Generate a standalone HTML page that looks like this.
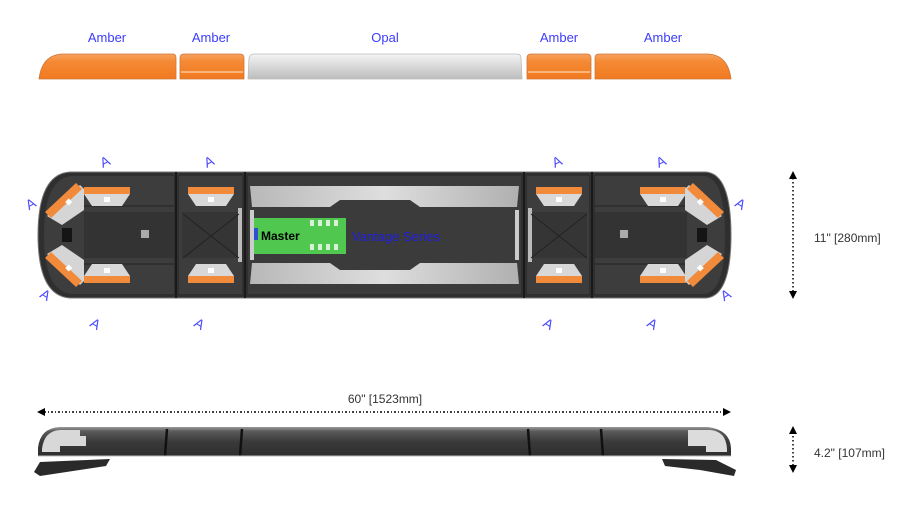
<!DOCTYPE html>
<html><head><meta charset="utf-8"><style>
html,body{margin:0;padding:0;background:#fff;}
svg{display:block;}
text{font-family:"Liberation Sans",sans-serif;}
</style></head><body>
<svg width="917" height="520" viewBox="0 0 917 520" xmlns="http://www.w3.org/2000/svg">
<defs>
<linearGradient id="amb" x1="0" y1="0" x2="0" y2="1"><stop offset="0" stop-color="#f6a261"/><stop offset="0.3" stop-color="#f58a34"/><stop offset="1" stop-color="#f07a20"/></linearGradient>
<linearGradient id="opl" x1="0" y1="0" x2="0" y2="1"><stop offset="0" stop-color="#f4f4f4"/><stop offset="0.5" stop-color="#d8d8d8"/><stop offset="1" stop-color="#bdbdbd"/></linearGradient>
<linearGradient id="side" x1="0" y1="0" x2="0" y2="1"><stop offset="0" stop-color="#9a9a9a"/><stop offset="0.15" stop-color="#5a5a5a"/><stop offset="0.5" stop-color="#3a3a3a"/><stop offset="1" stop-color="#2e2e2e"/></linearGradient>
<linearGradient id="pan" x1="0" y1="0" x2="1" y2="0"><stop offset="0" stop-color="#b8b8b8"/><stop offset="0.5" stop-color="#dedede"/><stop offset="1" stop-color="#b0b0b0"/></linearGradient>
<g id="trap">
 <polygon points="-23,7 23,7 15,19 -15,19" fill="#d8d8d8"/>
 <rect x="-23" y="0" width="46" height="7" fill="#f28a3c"/>
 <rect x="-3" y="10" width="6" height="5" fill="#fff"/>
</g>
<g id="diag">
 <polygon points="47,216 80,185 84,189 84,210 62,225" fill="#d5d5d5"/>
 <polygon points="45,212 76,183 82,189 51,218" fill="#f28a3c"/>
 <rect x="66" y="200" width="5" height="5" fill="#fff" transform="rotate(-45 68 202)"/>
</g>
<g id="A"><text font-size="14" fill="#4a4aff" text-anchor="middle">A</text></g>
</defs>

<text x="107" y="42" font-size="13" fill="#3b3bff" text-anchor="middle">Amber</text>
<text x="211" y="42" font-size="13" fill="#3b3bff" text-anchor="middle">Amber</text>
<text x="385" y="42" font-size="13" fill="#3b3bff" text-anchor="middle">Opal</text>
<text x="559" y="42" font-size="13" fill="#3b3bff" text-anchor="middle">Amber</text>
<text x="663" y="42" font-size="13" fill="#3b3bff" text-anchor="middle">Amber</text>
<path d="M39,79 Q42,55 62,54 L173,54 Q176,54 176,58 L176,79 Z" fill="url(#amb)" stroke="#d0773a" stroke-width="0.8"/>
<path d="M180,79 L180,58 Q180,54 184,54 L240,54 Q244,54 244,58 L244,79 Z" fill="url(#amb)" stroke="#d0773a" stroke-width="0.8"/>
<line x1="181" y1="72" x2="243" y2="72" stroke="#fbb47a" stroke-width="2"/>
<path d="M248,79 L249,58 Q250,54 254,54 L517,54 Q521,54 521,58 L522,79 Z" fill="url(#opl)" stroke="#bbb" stroke-width="0.8"/>
<path d="M527,79 L527,58 Q527,54 531,54 L587,54 Q591,54 591,58 L591,79 Z" fill="url(#amb)" stroke="#d0773a" stroke-width="0.8"/>
<line x1="528" y1="72" x2="590" y2="72" stroke="#fbb47a" stroke-width="2"/>
<path d="M595,79 L595,58 Q595,54 599,54 L708,54 Q728,55 731,79 Z" fill="url(#amb)" stroke="#d0773a" stroke-width="0.8"/>

<path d="M70,172 L706,172 Q731,174 731,235 Q731,296 706,298 L70,298 Q38,296 38,235 Q38,174 70,172 Z" fill="#2f2f2f" stroke="#777" stroke-width="1"/>
<path d="M72,176 L174,176 L174,294 L72,294 Q44,292 44,235 Q44,178 72,176 Z" fill="#3d3d3d"/>
<rect x="179" y="176" width="63" height="118" fill="#3d3d3d"/>
<rect x="248" y="176" width="273" height="118" fill="#3b3b3b"/>
<rect x="527" y="176" width="62" height="118" fill="#3d3d3d"/>
<path d="M595,176 L704,176 Q725,178 725,235 Q725,292 704,294 L595,294 Z" fill="#3d3d3d"/>
<rect x="84" y="212" width="90" height="46" fill="#333"/>
<rect x="595" y="212" width="92" height="46" fill="#333"/>
<rect x="182" y="212" width="58" height="46" fill="#353535"/>
<rect x="529" y="212" width="58" height="46" fill="#353535"/>
<rect x="238" y="208" width="4" height="54" fill="#bbb"/>
<rect x="528" y="208" width="4" height="54" fill="#bbb"/>
<g stroke="#222" stroke-width="1">
<line x1="60" y1="206" x2="174" y2="206"/><line x1="60" y1="264" x2="174" y2="264"/>
<line x1="595" y1="206" x2="710" y2="206"/><line x1="595" y1="264" x2="710" y2="264"/>
<line x1="183" y1="214" x2="239" y2="258"/><line x1="239" y1="214" x2="183" y2="258"/>
<line x1="531" y1="214" x2="587" y2="258"/><line x1="587" y1="214" x2="531" y2="258"/>
</g>
<rect x="62" y="228" width="10" height="14" fill="#151515"/>
<rect x="697" y="228" width="10" height="14" fill="#151515"/>
<rect x="141" y="230" width="8" height="8" fill="#aaa"/>
<rect x="620" y="230" width="8" height="8" fill="#aaa"/>
<polygon points="250,186 519,186 517,207 420,207 410,200 340,200 330,207 252,207" fill="url(#pan)"/>
<polygon points="250,284 519,284 517,263 420,263 410,270 340,270 330,263 252,263" fill="url(#pan)"/>
<rect x="250" y="210" width="4" height="50" fill="#ccc"/>
<rect x="515" y="210" width="4" height="50" fill="#ccc"/>
<rect x="254" y="218" width="92" height="36" fill="#50c850"/>
<g fill="#d8f0d8"><rect x="310" y="220" width="4" height="6"/><rect x="318" y="220" width="4" height="6"/><rect x="326" y="220" width="4" height="6"/><rect x="334" y="220" width="4" height="6"/><rect x="310" y="244" width="4" height="6"/><rect x="318" y="244" width="4" height="6"/><rect x="326" y="244" width="4" height="6"/><rect x="334" y="244" width="4" height="6"/></g>
<rect x="254" y="228" width="4" height="12" fill="#3050d0"/>
<text x="261" y="240" font-size="12" font-weight="bold" fill="#000">Master</text>
<text x="352" y="241" font-size="13" fill="#2020dd">Vantage Series</text>
<g stroke="#1a1a1a" stroke-width="2"><line x1="176" y1="172" x2="176" y2="298"/><line x1="245" y1="172" x2="245" y2="298"/><line x1="524" y1="172" x2="524" y2="298"/><line x1="592" y1="172" x2="592" y2="298"/></g>
<use href="#trap" transform="translate(107,187)"/>
<use href="#trap" transform="translate(211,187)"/>
<use href="#trap" transform="translate(559,187)"/>
<use href="#trap" transform="translate(663,187)"/>
<use href="#trap" transform="translate(107,283) scale(1,-1)"/>
<use href="#trap" transform="translate(211,283) scale(1,-1)"/>
<use href="#trap" transform="translate(559,283) scale(1,-1)"/>
<use href="#trap" transform="translate(663,283) scale(1,-1)"/>
<use href="#diag"/>
<use href="#diag" transform="translate(0,470) scale(1,-1)"/>
<use href="#diag" transform="translate(769,0) scale(-1,1)"/>
<use href="#diag" transform="translate(769,470) scale(-1,-1)"/>
<use href="#A" transform="translate(107,166) rotate(-25)"/>
<use href="#A" transform="translate(211,166) rotate(-25)"/>
<use href="#A" transform="translate(559,166) rotate(-25)"/>
<use href="#A" transform="translate(663,166) rotate(-25)"/>
<use href="#A" transform="translate(33,208) rotate(-30)"/>
<use href="#A" transform="translate(738,208) rotate(30)"/>
<use href="#A" transform="translate(43,299) rotate(30)"/>
<use href="#A" transform="translate(728,299) rotate(-30)"/>
<use href="#A" transform="translate(93,328) rotate(30)"/>
<use href="#A" transform="translate(197,328) rotate(30)"/>
<use href="#A" transform="translate(546,328) rotate(30)"/>
<use href="#A" transform="translate(650,328) rotate(30)"/>

<line x1="793" y1="178" x2="793" y2="292" stroke="#000" stroke-width="1.5" stroke-dasharray="1.5,2.5"/>
<polygon points="793,171 789,179 797,179" fill="#000"/>
<polygon points="793,299 789,291 797,291" fill="#000"/>
<text x="814" y="242" font-size="12" fill="#333">11" [280mm]</text>
<line x1="793" y1="432" x2="793" y2="467" stroke="#000" stroke-width="1.5" stroke-dasharray="1.5,2.5"/>
<polygon points="793,426 789,434 797,434" fill="#000"/>
<polygon points="793,473 789,465 797,465" fill="#000"/>
<text x="814" y="457" font-size="12" fill="#333">4.2" [107mm]</text>
<line x1="44" y1="412" x2="725" y2="412" stroke="#000" stroke-width="1.5" stroke-dasharray="2,2,1,2"/>
<polygon points="37,412 45,408 45,416" fill="#000"/>
<polygon points="731,412 723,408 723,416" fill="#000"/>
<text x="385" y="403" font-size="12" fill="#333" text-anchor="middle">60" [1523mm]</text>

<polygon points="40,462 110,459 106,466 40,476 34,472" fill="#2a2a2a"/>
<polygon points="662,459 716,460 736,470 734,476 700,470 665,466" fill="#2a2a2a"/>
<path d="M60,427 L708,427 Q730,430 731,448 L731,456 L38,456 L38,448 Q40,428 60,427 Z" fill="url(#side)"/>
<path d="M42,449 Q44,431 60,430 L80,430 L80,436 L86,436 L86,446 L60,446 L60,452 L42,452 Z" fill="#d8d8d8"/>
<path d="M688,430 L710,430 Q726,431 727,449 L727,452 L706,452 L706,446 L688,446 Z" fill="#dcdcdc"/>
<g stroke="#111" stroke-width="2.5"><line x1="167" y1="429" x2="165" y2="456"/><line x1="242" y1="429" x2="240" y2="456"/><line x1="528" y1="429" x2="530" y2="456"/><line x1="601" y1="429" x2="603" y2="456"/></g>
<line x1="38" y1="456" x2="731" y2="456" stroke="#bbb" stroke-width="1"/>
</svg>
</body></html>
